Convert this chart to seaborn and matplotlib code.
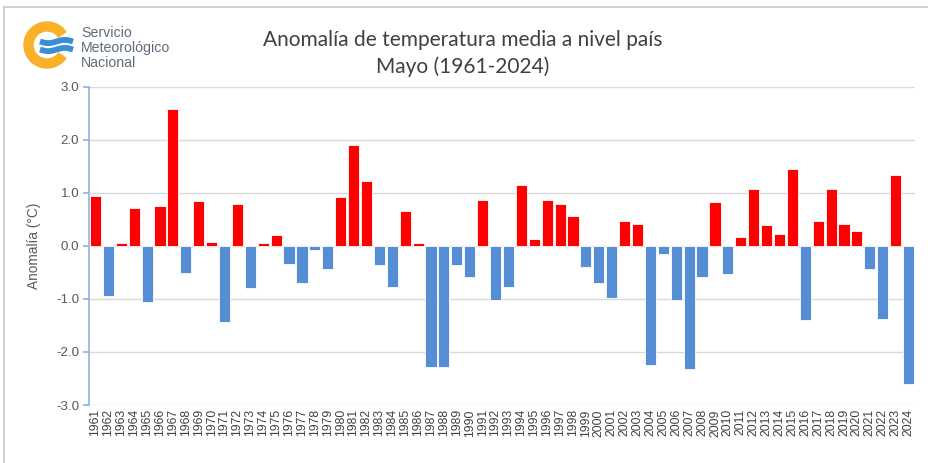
import matplotlib.pyplot as plt
import matplotlib.patches as mpatches
import numpy as np
import pandas as pd
import seaborn as sns

years = list(range(1961, 2025))
anomaly = [
    0.94, -0.95, 0.05, 0.71, -1.06, 0.76, 2.58, -0.52, 0.85, 0.07,
    -1.43, 0.78, -0.80, 0.05, 0.21, -0.34, -0.70, -0.08, -0.43, 0.92,
    1.91, 1.22, -0.36, -0.77, 0.65, 0.05, -2.29, -2.29, -0.36, -0.59,
    0.87, -1.02, -0.77, 1.15, 0.12, 0.87, 0.78, 0.56, -0.40, -0.70,
    -0.98, 0.46, 0.41, -2.24, -0.15, -1.02, -2.33, -0.59, 0.83, -0.54,
    0.16, 1.08, 0.39, 0.23, 1.45, -1.39, 0.46, 1.08, 0.41, 0.28,
    -0.43, -1.37, 1.34, -2.61,
]
title_lines = ["Anomalía de temperatura media a nivel país", "Mayo (1961-2024)"]
ylabel = "Anomalía (°C)"
yticks = [-3.0, -2.0, -1.0, 0.0, 1.0, 2.0, 3.0]
logo_text = ["Servicio", "Meteorológico", "Nacional"]

df = pd.DataFrame({"year": [str(y) for y in years], "anomaly": anomaly})
df["sign"] = np.where(df["anomaly"] >= 0, "pos", "neg")

sns.set_style("white")
plt.rcParams["axes.unicode_minus"] = False
plt.rcParams["font.family"] = ["Liberation Sans", "DejaVu Sans"]

W, H = 929, 463
fig = plt.figure(figsize=(W / 100, H / 100), dpi=100)
ax = fig.add_axes([89 / W, 1 - 405 / H, (915 - 89) / W, (405 - 86.7) / H])

ax.yaxis.grid(True, color="#d9d9d9", linewidth=1.0, zorder=0)
ax.set_axisbelow(True)

sns.barplot(
    data=df, x="year", y="anomaly", hue="sign",
    palette={"pos": "#ff0000", "neg": "#558ed5"},
    dodge=False, width=0.86, legend=False,
    edgecolor="#ffffff", linewidth=0.6, saturation=1, ax=ax,
)

ax.set_ylim(-3, 3)
ax.set_xlim(-0.5, len(years) - 0.5)
ax.set_yticks(yticks)
ax.set_yticklabels([f"{t:.1f}" for t in yticks])
ax.set_xlabel("")
ax.set_ylabel(ylabel, fontsize=9.8, color="#595959")
ax.yaxis.set_label_coords(-0.058, 0.5)

for s in ["top", "right", "bottom"]:
    ax.spines[s].set_visible(False)
ax.spines["left"].set_color("#8eb4e3")
ax.spines["left"].set_linewidth(1.2)
ax.tick_params(axis="y", length=4, width=1.2, color="#8eb4e3",
               labelsize=9.6, labelcolor="#595959", left=True, pad=3)
ax.tick_params(axis="x", length=0, labelsize=8.7, labelcolor="#404040",
               rotation=90, pad=3)

# titles
for txt, ypix in zip(title_lines, (40, 67)):
    fig.text(463 / W, 1 - ypix / H, txt, ha="center", va="center",
             fontsize=15, color="#404040", family=["Lato", "DejaVu Sans"])

# border lines (top and left)
fig.add_artist(plt.Line2D([4 / W, 1], [1 - 7 / H, 1 - 7 / H],
                          color="#c8c8c8", linewidth=1.2))
fig.add_artist(plt.Line2D([4 / W, 4 / W], [0, 1 - 7 / H],
                          color="#c8c8c8", linewidth=1.2))

# logo
lax = fig.add_axes([20 / W, 1 - 72 / H, 58 / W, 54 / H])
lax.set_xlim(20, 78)
lax.set_ylim(72, 18)
lax.set_aspect("equal")
lax.axis("off")
lax.add_patch(mpatches.Wedge((47, 45), 23, 35, 325, width=9,
                             color="#f9b12a", transform=lax.transData))
wx = np.linspace(40, 73, 60)
for yc in (41.5, 49.5):
    lax.plot(wx, yc + 1.6 * np.sin((wx - 40) / 33 * 2 * np.pi),
             color="#3a8fd4", linewidth=4.2, solid_capstyle="butt")
for i, t in enumerate(logo_text):
    fig.text(81 / W, 1 - (33 + 15 * i) / H, t, ha="left", va="center",
             fontsize=10.2, color="#5f6b78")

fig.savefig("out.png", dpi=100)
